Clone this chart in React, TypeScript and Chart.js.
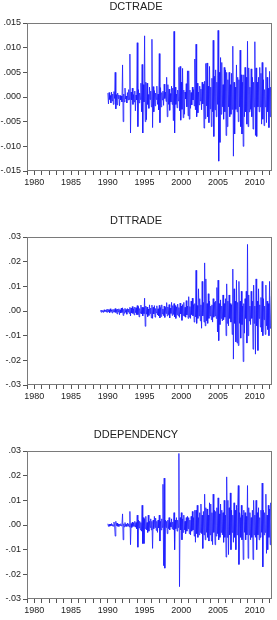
import React, { useEffect, useRef } from "react";
import { Chart, registerables } from "chart.js";

Chart.register(...registerables);

// Values in thousandths (0.001 units), monthly observations.
// DCTRADE: 1990M01 .. 2012M04
const dctradeStart = 1990;
const dctrade = [
  0.8, -1.4, 0.9, -0.5, 0.3, -1.2, 1.0, -0.8, 0.6, -1.5, 1.1, -0.3,
  5.0, -2.4, 0.5, -1.6, 0.8, -0.3, 0.4, -1.8, 0.3, -0.6, 0.2, -1.0,
  6.5, -5.0, 0.6, -1.0, 1.8, -0.4, 0.2, -1.2, 0.9, -0.6, 1.5, -0.5,
  8.7, -7.3, 1.0, -0.6, 1.8, -1.5, 0.5, -1.0, 1.2, -2.8, 0.4, -0.6,
  11.0, -6.0, 1.5, -1.2, 0.8, -0.5, 2.8, -3.0, 6.6, -7.3, 2.5, -1.0,
  12.4, -5.0, 3.0, -4.6, 2.8, -1.5, 0.5, -2.3, 2.0, -0.5, 1.2, -2.0,
  11.7, -6.2, 2.1, -3.0, 1.3, -1.8, 0.8, -0.5, 2.2, -1.5, 0.6, -2.6,
  8.8, -5.2, 1.9, -2.0, 0.9, -0.6, 1.2, -1.7, 2.6, -0.3, 1.0, -0.9,
  4.0, -4.0, 2.5, -1.5, 1.6, -2.7, 0.7, -1.0, 2.2, -1.5, 1.8, -4.8,
  13.3, -7.3, 2.0, -1.5, 0.6, -2.2, 1.4, -0.8, 6.0, -2.8, 6.2, -4.7,
  3.0, -2.5, 5.8, -4.2, 1.4, -3.5, 1.0, -0.4, 2.7, -2.0, 5.3, -3.8,
  5.3, -4.5, 1.4, -2.3, 0.9, -1.6, 2.0, -0.6, 1.5, -1.8, 7.7, -2.6,
  10.7, -4.0, 2.8, -3.2, 1.0, -1.6, 2.2, -0.8, 1.6, -2.6, 3.0, -1.4,
  2.6, -6.3, 3.2, -4.4, 6.8, -1.8, 6.9, -4.0, 2.2, -5.2, 6.2, -2.4,
  2.0, -6.0, 3.8, -3.0, 11.5, -8.0, 4.2, -2.6, 5.5, -4.0, 3.0, -1.5,
  13.5, -13.0, 5.0, -9.2, 8.0, -3.5, 7.0, -2.0, 2.5, -4.5, 6.0, -3.0,
  5.5, -7.8, 5.0, -6.0, 3.5, -2.0, 5.0, -4.0, 2.5, -3.5, 4.8, -2.5,
  10.3, -12.0, 3.0, -7.5, 2.0, -2.5, 6.5, -3.0, 4.0, -5.0, 3.5, -2.0,
  9.5, -6.0, 4.5, -7.5, 3.0, -10.0, 4.5, -4.0, 6.0, -3.0, 4.0, -5.5,
  11.3, -6.0, 5.9, -3.0, 2.0, -2.5, 5.7, -4.0, 4.0, -6.5, 3.0, -2.0,
  11.2, -7.8, 5.9, -8.0, 3.0, -2.0, 4.0, -3.0, 6.0, -2.0, 4.8, -5.5,
  7.0, -4.5, 3.5, -5.8, 1.5, -2.0, 6.0, -5.2, 4.0, -3.0, 1.8, -6.2,
  5.2, -4.0, 2.0, -2.5,
];

// DTTRADE: 1989M01 .. 2012M04
const dttradeStart = 1989;
const dttrade = [
  0.3, -0.5, 0.4, -0.3, 0.2, -0.6, 0.5, -0.2, 0.3, -0.4, 0.6, -0.5,
  0.8, -0.3, 0.5, -0.7, 0.9, -0.2, 0.4, -0.8, 0.6, -0.3, 0.7, -0.5,
  1.0, -0.6, 0.6, -1.2, 0.8, -0.4, 0.9, -1.5, 0.5, -0.8, 1.2, -0.6,
  1.3, -1.8, 0.7, -0.9, 1.1, -0.5, 0.6, -1.3, 1.0, -0.4, 0.8, -1.0,
  1.5, -2.0, 1.2, -0.8, 1.8, -1.0, 0.9, -1.6, 1.6, -0.7, 1.3, -1.4,
  2.2, -1.5, 1.8, -2.4, 1.0, -0.9, 2.4, -1.2, 1.5, -2.0, 1.4, -1.1,
  5.2, -6.2, 2.0, -1.3, 1.6, -2.3, 0.8, -1.8, 2.5, -1.0, 1.2, -2.8,
  2.4, -3.0, 1.5, -1.2, 2.2, -2.5, 1.0, -0.8, 2.1, -1.6, 0.9, -2.0,
  2.3, -2.8, 1.4, -2.2, 2.5, -1.2, 0.8, -1.9, 2.0, -2.6, 1.5, -1.0,
  3.4, -2.0, 1.6, -1.5, 2.6, -2.8, 1.2, -1.0, 3.5, -1.8, 2.2, -1.4,
  3.0, -2.4, 2.2, -3.0, 1.6, -1.5, 2.8, -2.0, 1.4, -2.6, 3.2, -1.2,
  2.0, -3.8, 2.6, -1.8, 3.5, -2.2, 1.5, -2.5, 4.2, -1.6, 2.0, -3.0,
  5.8, -2.5, 1.8, -3.0, 4.0, -1.5, 5.2, -2.0, 2.6, -4.5, 3.0, -2.4,
  16.5, -5.0, 2.2, -3.0, 9.0, -2.0, 5.0, -4.0, 2.5, -7.0, 12.0, -2.0,
  3.5, -4.5, 19.5, -6.0, 13.0, -4.0, 3.0, -5.0, 7.0, -3.0, 4.0, -2.0,
  2.0, -3.5, 2.5, -4.5, 5.0, -2.5, 3.5, -2.0, 4.0, -3.0, 9.5, -8.5,
  12.5, -12.0, 3.0, -5.5, 4.5, -3.0, 2.0, -4.0, 6.5, -3.5, 3.0, -2.5,
  5.0, -10.0, 11.0, -5.0, 4.0, -6.0, 6.5, -3.0, 3.0, -4.5, 2.5, -9.5,
  17.0, -19.5, 9.0, -5.0, 4.0, -12.5, 12.5, -13.0, 3.5, -14.0, 12.0, -5.0,
  4.0, -11.0, 8.0, -5.5, 2.0, -20.5, 3.0, -9.0, 5.0, -3.0, 8.0, -13.0,
  27.0, -10.0, 6.5, -4.0, 2.0, -5.5, 8.0, -3.0, 4.0, -15.5, 10.5, -5.0,
  2.0, -17.5, 13.0, -6.0, 4.0, -16.0, 9.0, -3.0, 2.5, -6.5, 5.5, -8.5,
  12.0, -10.0, 5.0, -3.5, 2.0, -9.5, 10.5, -6.0, 4.0, -7.5, 3.0, -10.0,
  12.0, -7.0, -6.0, 6.0,
];

// DDEPENDENCY: 1990M01 .. 2012M04
const ddependencyStart = 1990;
const ddependency = [
  0.5, -0.6, 0.3, -0.5, 0.4, -0.3, 0.6, -0.4, 0.2, -0.5, 1.2, -0.3,
  -4.5, 1.5, -0.3, 0.8, -0.5, 0.4, -0.6, 0.3, -0.2, 0.5, -0.4, 0.2,
  4.5, -6.0, 0.5, -0.8, 1.0, -0.5, 0.3, -0.6, 0.8, -0.4, 0.5, -0.8,
  5.5, -8.0, 0.6, -1.0, 1.2, -0.6, 0.8, -0.5, 1.5, -0.9, 1.0, -1.5,
  4.0, -9.0, 2.0, -1.2, 1.5, -2.0, 1.0, -2.5, 8.0, -7.5, 3.0, -7.5,
  2.5, -1.5, 3.5, -2.0, 1.0, -3.0, 4.0, -2.5, 1.5, -1.0, 2.5, -2.0,
  1.5, -9.5, 2.0, -1.5, 3.5, -1.0, 2.8, -2.2, 1.5, -3.0, 2.0, -1.2,
  4.0, -6.5, 1.5, -2.0, 2.5, -1.0, 16.5, -16.5, 19.0, -17.5, 2.0, -1.0,
  1.5, -3.5, 2.0, -1.5, 3.0, -2.0, 1.0, -0.8, 2.5, -1.5, 1.2, -2.0,
  5.0, -10.0, 2.0, -1.5, 3.0, -2.5, 2.0, -1.0, 29.0, -25.0, 3.0, -2.0,
  5.0, -6.0, 2.5, -3.0, 4.0, -2.0, 1.5, -3.5, 3.0, -2.5, 3.5, -1.5,
  3.0, -3.5, 2.0, -4.0, 3.5, -2.5, 5.5, -2.0, 3.0, -4.5, 6.0, -7.0,
  6.0, -3.5, 8.0, -5.0, 3.0, -4.0, 5.0, -3.0, 8.5, -3.5, 4.0, -9.5,
  5.5, -4.0, 12.5, -6.0, 7.0, -3.0, 6.5, -5.0, 4.0, -6.5, 9.0, -4.0,
  8.5, -6.5, 5.0, -8.0, 12.5, -3.0, 6.0, -8.0, 5.5, -4.5, 7.0, -3.5,
  11.0, -6.0, 4.5, -5.0, 8.5, -3.0, 6.0, -4.0, 5.0, -7.0, 10.0, -5.0,
  4.0, -13.0, 19.5, -5.0, 10.0, -12.0, 7.0, -4.0, 13.0, -10.0, 6.0, -3.0,
  4.0, -7.0, 9.0, -5.0, 6.0, -10.0, 8.0, -4.0, 7.0, 16.0, -16.0, 5.0,
  3.0, -5.0, 8.0, -6.0, 4.0, -14.0, 6.0, -3.0, 5.0, -6.0, 3.5, -4.0,
  16.0, -13.5, 7.0, -4.0, 5.0, -6.0, 3.0, -5.0, 6.0, -14.0, 10.0, -4.0,
  4.0, -5.0, 10.0, -10.0, 5.0, -4.0, 7.0, -6.0, 3.0, -5.0, 6.0, -3.0,
  17.0, -17.0, 6.0, -4.0, 5.0, -3.0, 12.5, -11.5, 4.0, -10.0, 8.0, -5.0,
  6.5, -8.0, 9.0, 2.0,
];

const xMin = 1979;
const xMax = 2012 + 4 / 12;
const yearTicks = Array.from({ length: 34 }, (_, i) => 1979 + i);
const smallYTicks = [-15, -10, -5, 0, 5, 10, 15];
const largeYTicks = [-30, -20, -10, 0, 10, 20, 30];

const FONT = "Arial, 'Liberation Sans', Helvetica, sans-serif";
const PLOT_TOP = 23;
const PLOT_BOTTOM = 171;

const panels = [
  { title: "DCTRADE", values: dctrade, start: dctradeStart, yTicks: smallYTicks, decimals: 3, top: 0, height: 214 },
  { title: "DTTRADE", values: dttrade, start: dttradeStart, yTicks: largeYTicks, decimals: 2, top: 214, height: 214 },
  { title: "DDEPENDENCY", values: ddependency, start: ddependencyStart, yTicks: largeYTicks, decimals: 2, top: 428, height: 192 },
];

function fmt(v: number, d: number) {
  const s = (v / 1000).toFixed(d);
  return s.replace(/^(-?)0\./, "$1.");
}

const framePlugin = {
  id: "frame",
  afterDraw(chart: any) {
    const { ctx, chartArea } = chart;
    ctx.save();
    ctx.strokeStyle = "#7a7a7a";
    ctx.lineWidth = 1;
    ctx.strokeRect(
      Math.round(chartArea.left) + 0.5,
      Math.round(chartArea.top) + 0.5,
      Math.round(chartArea.right - chartArea.left) - 1,
      Math.round(chartArea.bottom - chartArea.top) - 1
    );
    ctx.restore();
  },
};

function Panel({ p }: { p: (typeof panels)[number] }) {
  const ref = useRef<HTMLCanvasElement>(null);
  useEffect(() => {
    if (!ref.current) return;
    const yMin = p.yTicks[0];
    const yMax = p.yTicks[p.yTicks.length - 1];
    const pts = p.values.map((v, i) => ({ x: p.start + i / 12, y: v }));
    const chart = new Chart(ref.current, {
      type: "line",
      data: {
        datasets: [
          {
            data: pts,
            borderColor: "#1a1aff",
            borderWidth: 0.8,
            pointRadius: 0,
            tension: 0,
            fill: false,
          },
        ],
      },
      options: {
        responsive: false,
        animation: false,
        devicePixelRatio: 1,
        layout: { padding: { left: 0, right: 5, top: 0, bottom: 0 } },
        plugins: {
          legend: { display: false },
          tooltip: { enabled: false },
          title: {
            display: true,
            text: p.title,
            color: "#222",
            font: { family: FONT, size: 11, weight: "normal" },
            padding: { top: 0, bottom: PLOT_TOP - 13.2 },
          },
        },
        scales: {
          x: {
            type: "linear",
            min: xMin,
            max: xMax,
            afterBuildTicks: (s: any) => {
              s.ticks = yearTicks.map((v) => ({ value: v }));
            },
            afterFit: (s: any) => {
              s.height = p.height - PLOT_BOTTOM;
            },
            border: { display: false },
            grid: { drawOnChartArea: false, drawTicks: true, tickLength: 4, color: "#555" },
            ticks: {
              autoSkip: false,
              maxRotation: 0,
              padding: 2,
              color: "#222",
              font: { family: FONT, size: 9 },
              callback: (v: any) => (Number(v) % 5 === 0 ? String(v) : ""),
            },
          },
          y: {
            min: yMin,
            max: yMax,
            afterBuildTicks: (s: any) => {
              s.ticks = p.yTicks.map((v) => ({ value: v }));
            },
            afterFit: (s: any) => {
              s.width = 27;
            },
            border: { display: false },
            grid: { drawOnChartArea: false, drawTicks: true, tickLength: 4, color: "#555" },
            ticks: {
              padding: 2,
              color: "#222",
              font: { family: FONT, size: 9 },
              callback: (v: any) => fmt(Number(v), p.decimals),
            },
          },
        },
      },
      plugins: [framePlugin],
    } as any);
    return () => chart.destroy();
  }, [p]);
  return (
    <div style={{ position: "absolute", left: 0, top: p.top, width: 277, height: p.height }}>
      <canvas ref={ref} width={277} height={p.height} style={{ display: "block", width: 277, height: p.height }} />
    </div>
  );
}

export default function App() {
  return (
    <div style={{ position: "absolute", left: 0, top: 0, width: 277, height: 620, overflow: "hidden", background: "#fff" }}>
      {panels.map((p) => (
        <Panel key={p.title} p={p} />
      ))}
    </div>
  );
}
